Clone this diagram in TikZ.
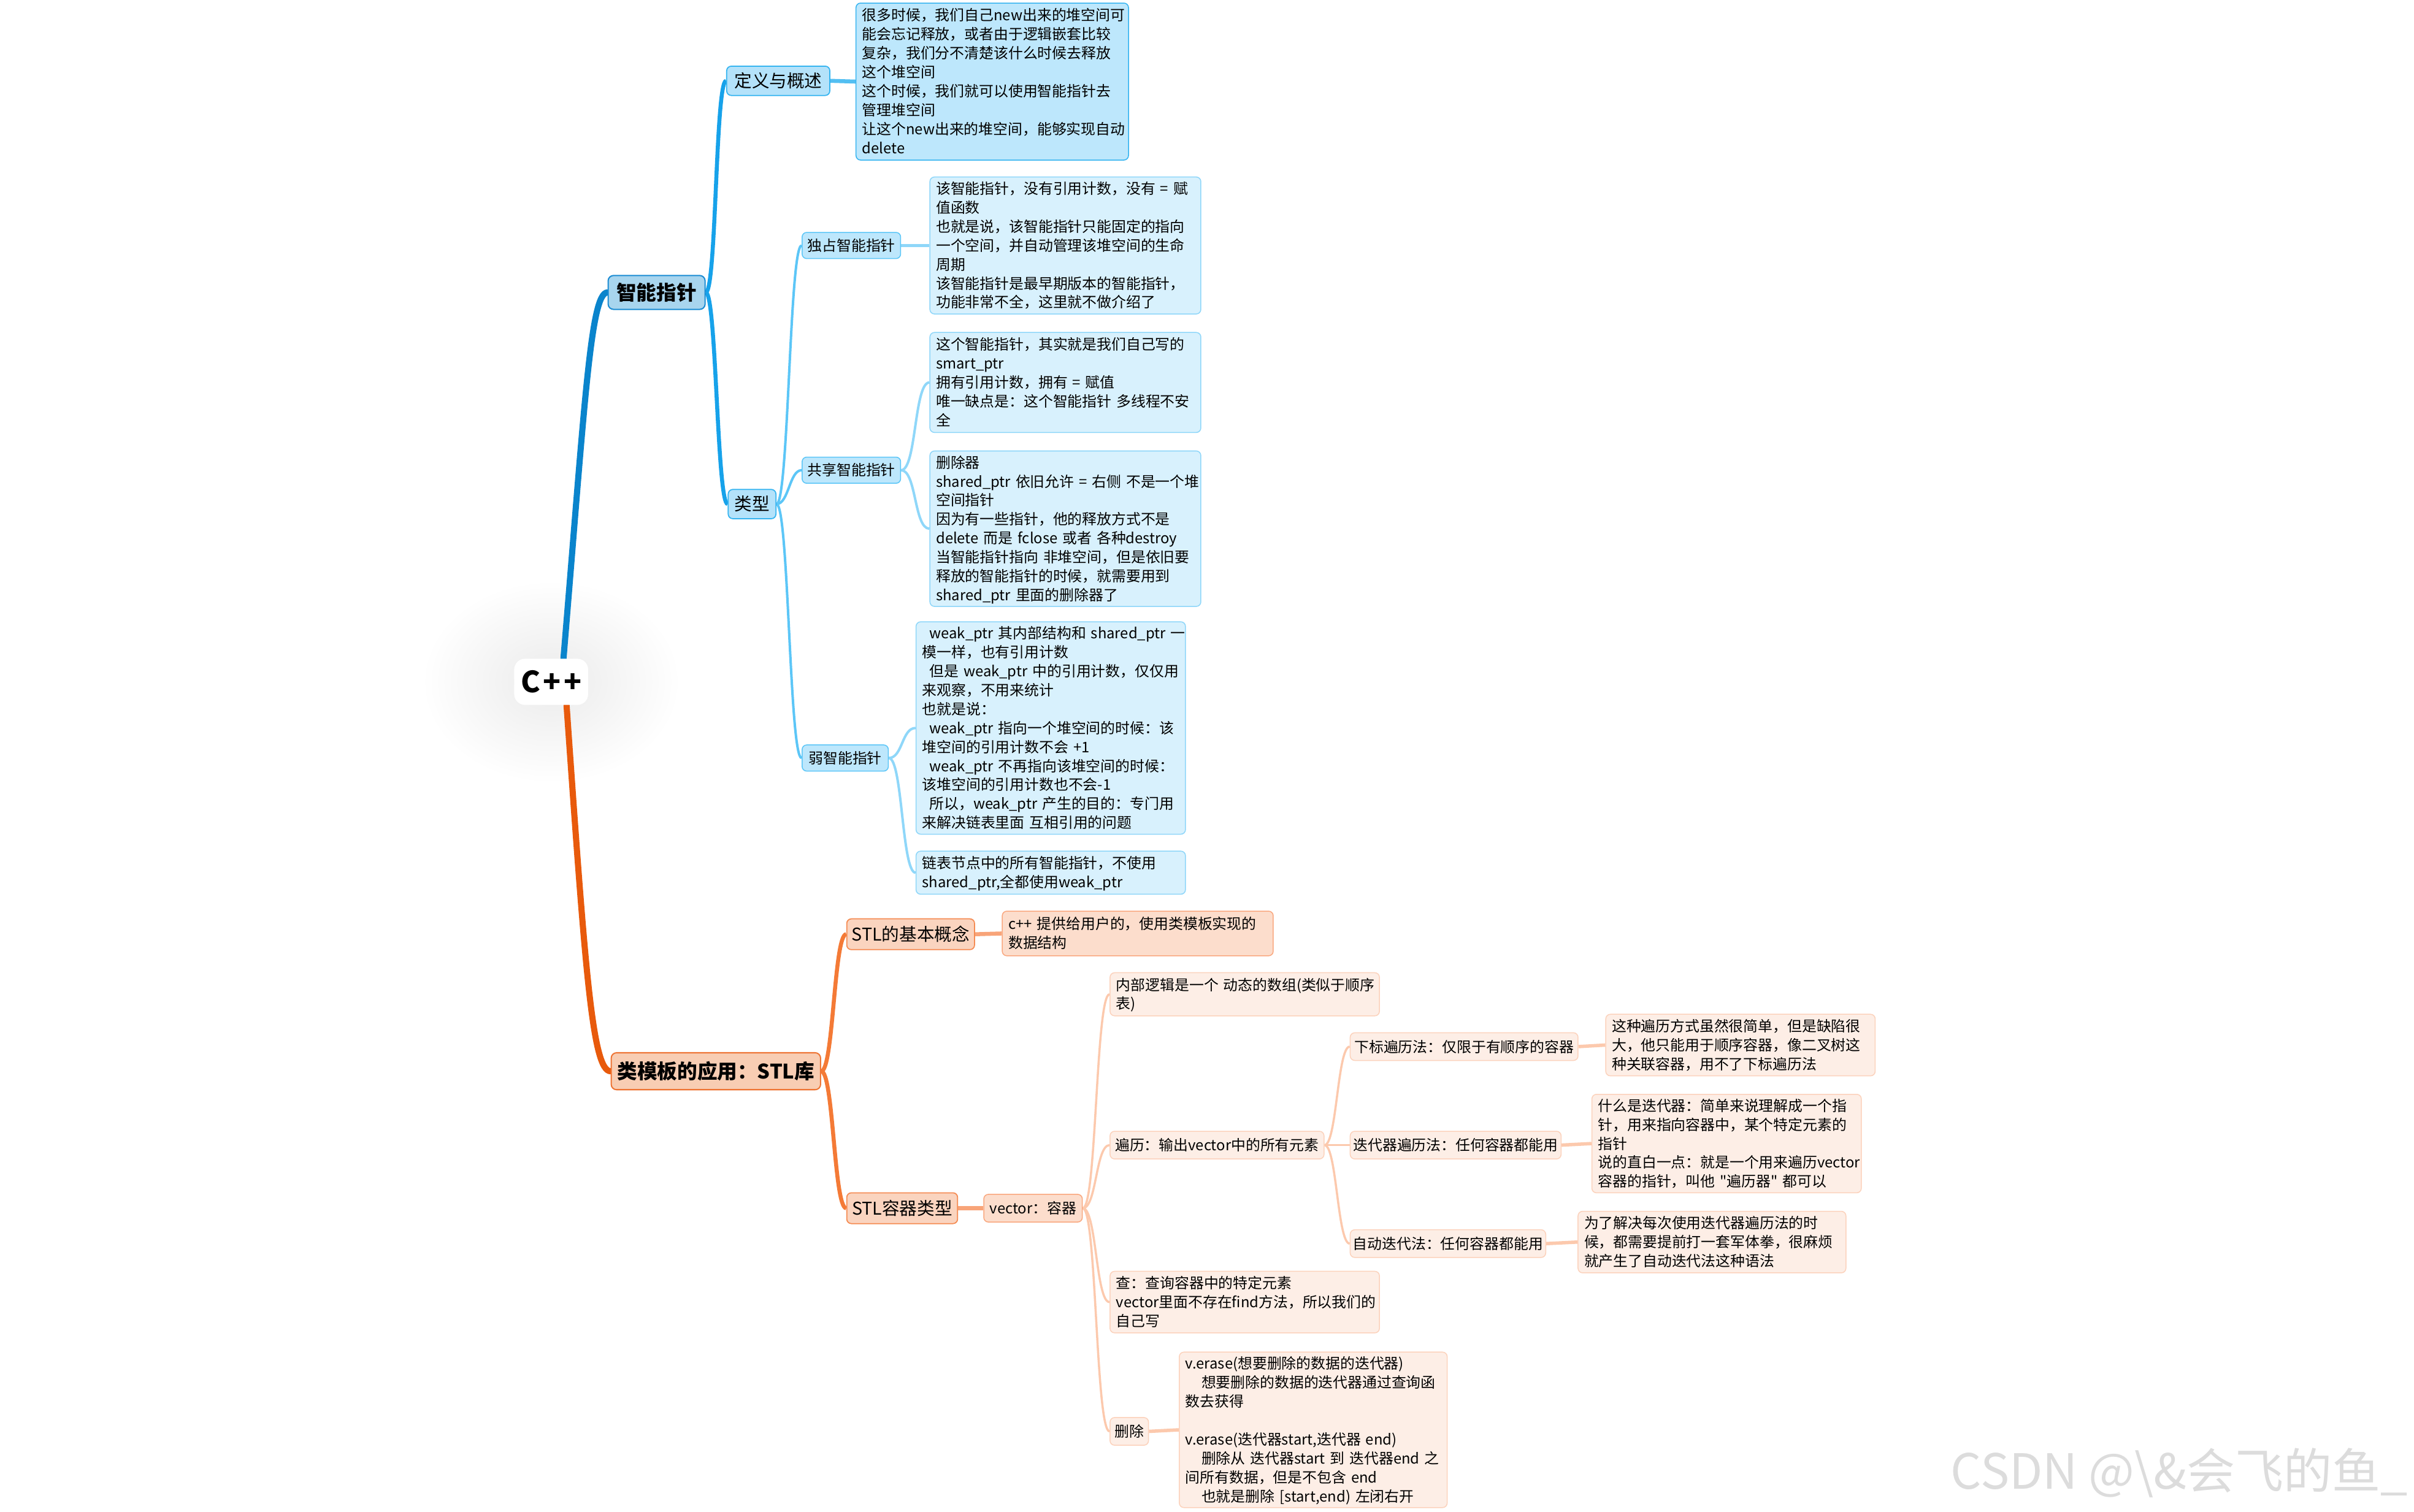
\documentclass[tikz,border=0pt]{standalone}
\usepackage{fontspec}
\setmainfont{Noto Sans CJK SC}[Ligatures=TeXOff]
\usetikzlibrary{backgrounds}
\definecolor{bMain}{HTML}{0A84CC}
\definecolor{bLonefill}{HTML}{A8D5EE}
\definecolor{bLonedraw}{HTML}{1C8CD3}
\definecolor{bLoneline}{HTML}{17A2EA}
\definecolor{bLtwofill}{HTML}{B4E2FA}
\definecolor{bLtwodraw}{HTML}{35B4F0}
\definecolor{bLtwoline}{HTML}{5CC6F7}
\definecolor{bLthrfill}{HTML}{BDE7FC}
\definecolor{bLthrdraw}{HTML}{5BC6F7}
\definecolor{bLthrline}{HTML}{8FD7F9}
\definecolor{bLeaf}{HTML}{D8F1FD}
\definecolor{bLeafdraw}{HTML}{8ED6F9}
\definecolor{oMain}{HTML}{E85A0C}
\definecolor{oLonefill}{HTML}{F8CDB3}
\definecolor{oLonedraw}{HTML}{EE7535}
\definecolor{oLoneline}{HTML}{F47A36}
\definecolor{oLtwofill}{HTML}{FAD4BF}
\definecolor{oLtwodraw}{HTML}{F58C54}
\definecolor{oLtwoline}{HTML}{F8A479}
\definecolor{oLthrfill}{HTML}{FCDDCC}
\definecolor{oLthrdraw}{HTML}{F9A77E}
\definecolor{oLthrline}{HTML}{FCC9AD}
\definecolor{oLeaf}{HTML}{FDEEE6}
\definecolor{oLeafdraw}{HTML}{FCD2BC}
\definecolor{wmark}{HTML}{DCDCDC}
\newcommand{\mylines}[1]{\raisebox{-1.1pt}[\height][\depth]{\begin{tabular}{@{}l@{}}#1\end{tabular}}}
\newcommand{\ind}{\hspace*{0.5em}}
\newcommand{\qind}{\hspace*{1.1em}}
\begin{document}
\begin{tikzpicture}[x=1pt,y=-1pt,
  every node/.style={inner sep=0pt,text=black},
  sz/.style 2 args={minimum width=#1pt,minimum height=#2pt},
  lf/.style 2 args={text width=#1pt,minimum height=#2pt},
  rootbox/.style={fill=white,rounded corners=7pt,minimum width=48pt,minimum height=30pt,
    font=\bfseries\fontsize{19}{22}\selectfont},
  glow/.style={inner color=black!8,outer color=white},
  txtmain/.style={font=\bfseries\fontsize{13}{15}\selectfont,rounded corners=3.5pt,line width=0.8pt},
  txtsub/.style={font=\fontsize{11.4}{14}\selectfont,rounded corners=3pt,line width=0.7pt},
  txtsmall/.style={font=\fontsize{9.5}{12.3}\selectfont,rounded corners=3pt,line width=0.6pt},
  txtleaf/.style={txtsmall,align=left,inner xsep=4pt},
  bmain/.style={txtmain,fill=bLonefill,draw=bLonedraw},
  bsub/.style={txtsub,fill=bLtwofill,draw=bLtwodraw},
  btopic/.style={txtsmall,fill=bLthrfill,draw=bLthrdraw},
  bleafA/.style={txtleaf,fill=bLthrfill,draw=bLtwodraw},
  bleaf/.style={txtleaf,fill=bLeaf,draw=bLeafdraw},
  omain/.style={txtmain,fill=oLonefill,draw=oLonedraw},
  osub/.style={txtsub,fill=oLtwofill,draw=oLtwodraw},
  otopic/.style={txtsmall,fill=oLthrfill,draw=oLthrdraw},
  oleafA/.style={txtleaf,fill=oLthrfill,draw=oLthrdraw},
  otopicB/.style={txtsmall,fill=oLeaf,draw=oLeafdraw},
  oleaf/.style={txtleaf,fill=oLeaf,draw=oLeafdraw},
  cbmain/.style={draw=bMain,line width=4pt,line cap=round},
  cbone/.style={draw=bLoneline,line width=2.6pt},
  cbonestr/.style={draw=bLtwodraw!85,line width=2.6pt},
  cbtwo/.style={draw=bLtwoline,line width=1.6pt},
  cbthr/.style={draw=bLthrline,line width=1.6pt},
  cbthrstr/.style={draw=bLthrline,line width=2.2pt},
  comain/.style={draw=oMain,line width=4pt,line cap=round},
  coone/.style={draw=oLoneline,line width=2.6pt},
  cotwostr/.style={draw=oLtwoline,line width=2.6pt},
  cothr/.style={draw=oLthrline,line width=1.4pt},
  cothrstr/.style={draw=oLthrline,line width=2.2pt}
]
\useasboundingbox (0,0) rectangle (1568,982);

% root
\node[rootbox] (root) at (358,443) {C\kern1.8pt+\kern1.8pt+};

% blue branch
\node[bmain,sz={63}{22}] (zn) at (426.5,190) {智能指针};
\node[bsub,sz={67}{19}] (dy) at (505.5,52.5) {定义与概述};
\node[bsub,sz={31}{19}] (lx) at (488.5,327.5) {类型};
\node[btopic,sz={64}{17}] (dz) at (553,159.5) {独占智能指针};
\node[btopic,sz={64}{17}] (gx) at (553,305.5) {共享智能指针};
\node[btopic,sz={56}{17}] (rz) at (549,492.5) {弱智能指针};

\node[bleafA,lf={169}{102}] (ldy) at (644.5,53) {\mylines{很多时候，我们自己new出来的堆空间可\\能会忘记释放，或者由于逻辑嵌套比较\\复杂，我们分不清楚该什么时候去释放\\这个堆空间\\这个时候，我们就可以使用智能指针去\\管理堆空间\\让这个new出来的堆空间，能够实现自动\\delete}};
\node[bleaf,lf={168}{89}] (ldz) at (692,159.5) {\mylines{该智能指针，没有引用计数，没有 = 赋\\值函数\\也就是说，该智能指针只能固定的指向\\一个空间，并自动管理该堆空间的生命\\周期\\该智能指针是最早期版本的智能指针，\\功能非常不全，这里就不做介绍了}};
\node[bleaf,lf={168}{65}] (lgxa) at (692,248.5) {\mylines{这个智能指针，其实就是我们自己写的\\smart\_ptr\\拥有引用计数，拥有 = 赋值\\唯一缺点是：这个智能指针 多线程不安\\全}};
\node[bleaf,lf={168}{101}] (lgxb) at (692,343.5) {\mylines{删除器\\shared\_ptr 依旧允许 = 右侧 不是一个堆\\空间指针\\因为有一些指针，他的释放方式不是\\delete 而是 fclose 或者 各种destroy\\当智能指针指向 非堆空间，但是依旧要\\释放的智能指针的时候，就需要用到\\shared\_ptr 里面的删除器了}};
\node[bleaf,lf={167}{138}] (lrza) at (682.5,473) {\mylines{\ind weak\_ptr 其内部结构和 shared\_ptr 一\\模一样，也有引用计数\\\ind 但是 weak\_ptr 中的引用计数，仅仅用\\来观察，不用来统计\\也就是说：\\\ind weak\_ptr 指向一个堆空间的时候：该\\堆空间的引用计数不会 +1\\\ind weak\_ptr 不再指向该堆空间的时候：\\该堆空间的引用计数也不会-1\\\ind 所以，weak\_ptr 产生的目的：专门用\\来解决链表里面 互相引用的问题}};
\node[bleaf,lf={167}{28}] (lrzb) at (682.5,567) {\mylines{链表节点中的所有智能指针，不使用\\shared\_ptr,全都使用weak\_ptr}};

% orange branch
\node[omain,sz={136}{24}] (tm) at (465,696) {类模板的应用：STL库};
\node[osub,sz={83}{20}] (sj) at (591.5,607) {STL的基本概念};
\node[osub,sz={72}{20}] (sr) at (586,785) {STL容器类型};
\node[oleafA,lf={168}{29}] (lsj) at (739,606.5) {\mylines{c++ 提供给用户的，使用类模板实现的\\数据结构}};
\node[otopic,sz={64}{18}] (vec) at (671,785) {vector：容器};
\node[oleaf,lf={167}{28}] (nb) at (808.5,646) {\mylines{内部逻辑是一个 动态的数组(类似于顺序\\表)}};
\node[otopicB,sz={139}{18}] (bl) at (790.5,744) {遍历：输出vector中的所有元素};
\node[oleaf,lf={167}{40}] (ch) at (808.5,846) {\mylines{查：查询容器中的特定元素\\vector里面不存在find方法，所以我们的\\自己写}};
\node[otopicB,sz={25}{18}] (sc) at (733.5,930) {删除};
\node[oleaf,lf={166}{101}] (lsc) at (853,929) {\mylines{v.erase(想要删除的数据的迭代器)\\\qind 想要删除的数据的迭代器通过查询函\\数去获得\\ \\v.erase(迭代器start,迭代器 end)\\\qind 删除从 迭代器start 到 迭代器end 之\\间所有数据，但是不包含 end\\\qind 也就是删除 [start,end) 左闭右开}};
\node[otopicB,sz={148}{18}] (xb) at (951,680) {下标遍历法：仅限于有顺序的容器};
\node[otopicB,sz={137}{18}] (dd) at (945.5,744) {迭代器遍历法：任何容器都能用};
\node[otopicB,sz={127}{18}] (zd) at (940.5,808) {自动迭代法：任何容器都能用};
\node[oleaf,lf={167}{40}] (lxb) at (1130.5,679) {\mylines{这种遍历方式虽然很简单，但是缺陷很\\大，他只能用于顺序容器，像二叉树这\\种关联容器，用不了下标遍历法}};
\node[oleaf,lf={167}{64}] (ldd) at (1121.5,743) {\mylines{什么是迭代器：简单来说理解成一个指\\针，用来指向容器中，某个特定元素的\\指针\\说的直白一点：就是一个用来遍历vector\\容器的指针，叫他 "遍历器" 都可以}};
\node[oleaf,lf={166}{40}] (lzd) at (1112,807) {\mylines{为了解决每次使用迭代器遍历法的时\\候，都需要提前打一套军体拳，很麻烦\\就产生了自动迭代法这种语法}};

% watermark
\node[anchor=west,text=wmark,font=\fontsize{31.5}{33}\selectfont] (wm) at (1267,957) {CSDN @\textbackslash\&会飞的鱼\_};

\begin{pgfonlayer}{background}
\fill[white] (0,0) rectangle (1568,982);
\shade[glow] (root.center) ellipse [x radius=84, y radius=66];
% blue connectors
\draw[cbmain] ([xshift=8pt]root.north) .. controls +(14,-168) and +(-11,0) .. (zn.west);
\draw[cbone] (zn.east) .. controls +(7,0) and +(-7,0) .. (dy.west);
\draw[cbone] (zn.east) .. controls +(7,0) and +(-7,0) .. (lx.west);
\draw[cbonestr] (dy.east) -- (ldy.west);
\draw[cbtwo] (lx.east) .. controls +(8,0) and +(-8,0) .. (dz.west);
\draw[cbtwo] (lx.east) .. controls +(8,0) and +(-8,0) .. (gx.west);
\draw[cbtwo] (lx.east) .. controls +(8,0) and +(-8,0) .. (rz.west);
\draw[cbthrstr] (dz.east) -- (ldz.west);
\draw[cbthr] (gx.east) .. controls +(10,0) and +(-10,0) .. (lgxa.west);
\draw[cbthr] (gx.east) .. controls +(10,0) and +(-10,0) .. (lgxb.west);
\draw[cbthr] (rz.east) .. controls +(9,0) and +(-9,0) .. (lrza.west);
\draw[cbthr] (rz.east) .. controls +(9,0) and +(-9,0) .. (lrzb.west);
% orange connectors
\draw[comain] ([xshift=10pt]root.south) .. controls +(12,170) and +(-12,0) .. (tm.west);
\draw[coone] (tm.east) .. controls +(8,0) and +(-8,0) .. (sj.west);
\draw[coone] (tm.east) .. controls +(8,0) and +(-8,0) .. (sr.west);
\draw[cotwostr] (sj.east) -- (lsj.west);
\draw[cotwostr] (sr.east) -- (vec.west);
\draw[cothr] (vec.east) .. controls +(9,0) and +(-9,0) .. (nb.west);
\draw[cothr] (vec.east) .. controls +(9,0) and +(-9,0) .. (bl.west);
\draw[cothr] (vec.east) .. controls +(9,0) and +(-9,0) .. (ch.west);
\draw[cothr] (vec.east) .. controls +(9,0) and +(-9,0) .. (sc.west);
\draw[cothrstr] (sc.east) -- (lsc.west);
\draw[cothr] (bl.east) .. controls +(8,0) and +(-8,0) .. (xb.west);
\draw[cothr] (bl.east) -- (dd.west);
\draw[cothr] (bl.east) .. controls +(8,0) and +(-8,0) .. (zd.west);
\draw[cothrstr] (xb.east) -- (lxb.west);
\draw[cothrstr] (dd.east) -- (ldd.west);
\draw[cothrstr] (zd.east) -- (lzd.west);
\end{pgfonlayer}
\end{tikzpicture}
\end{document}
